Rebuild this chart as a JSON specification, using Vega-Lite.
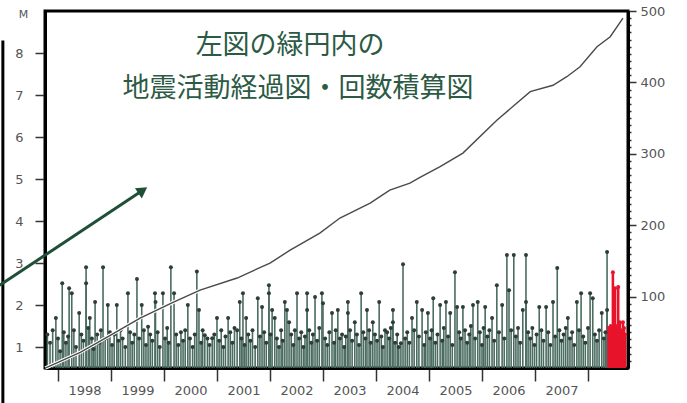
{
  "$schema": "https://vega.github.io/schema/vega-lite/v6.json",
  "width": 583,
  "height": 357,
  "autosize": {"type": "none"},
  "padding": {"left": 45, "top": 11, "right": 59, "bottom": 35},
  "background": "white",
  "config": {
    "view": {"stroke": "#000", "strokeWidth": 3},
    "axis": {"labelFont": "DejaVu Sans", "labelFontSize": 13, "labelColor": "#555", "domainColor": "#000", "domainWidth": 3, "tickColor": "#333", "tickWidth": 1.5, "grid": false}
  },
  "datasets": {
    "ev": [
      {"t": 1997.96, "m": 1.69, "g": "past"}, {"t": 1998.08, "m": 2.52, "g": "past"}, {"t": 1998.21, "m": 2.4, "g": "past"}, {"t": 1998.26, "m": 2.28, "g": "past"}, {"t": 1998.4, "m": 1.81, "g": "past"}, {"t": 1998.53, "m": 2.9, "g": "past"}, {"t": 1998.53, "m": 2.52, "g": "past"}, {"t": 1998.6, "m": 1.69, "g": "past"}, {"t": 1998.7, "m": 2.07, "g": "past"}, {"t": 1998.85, "m": 2.9, "g": "past"}, {"t": 1998.94, "m": 2.0, "g": "past"}, {"t": 1999.11, "m": 2.0, "g": "past"}, {"t": 1999.32, "m": 2.28, "g": "past"}, {"t": 1999.49, "m": 2.62, "g": "past"}, {"t": 1999.58, "m": 2.0, "g": "past"}, {"t": 1999.7, "m": 1.48, "g": "past"}, {"t": 1999.83, "m": 2.28, "g": "past"}, {"t": 1999.84, "m": 2.07, "g": "past"}, {"t": 1999.98, "m": 2.28, "g": "past"}, {"t": 2000.13, "m": 2.9, "g": "past"}, {"t": 2000.19, "m": 2.28, "g": "past"}, {"t": 2000.45, "m": 2.0, "g": "past"}, {"t": 2000.62, "m": 2.8, "g": "past"}, {"t": 2000.66, "m": 1.88, "g": "past"}, {"t": 2000.77, "m": 1.28, "g": "past"}, {"t": 2000.91, "m": 1.21, "g": "past"}, {"t": 2001.0, "m": 1.69, "g": "past"}, {"t": 2001.21, "m": 1.69, "g": "past"}, {"t": 2001.38, "m": 1.4, "g": "past"}, {"t": 2001.43, "m": 2.07, "g": "past"}, {"t": 2001.49, "m": 2.28, "g": "past"}, {"t": 2001.55, "m": 1.69, "g": "past"}, {"t": 2001.77, "m": 2.16, "g": "past"}, {"t": 2001.85, "m": 1.95, "g": "past"}, {"t": 2001.98, "m": 2.47, "g": "past"}, {"t": 2001.98, "m": 2.28, "g": "past"}, {"t": 2002.04, "m": 1.88, "g": "past"}, {"t": 2002.09, "m": 1.69, "g": "past"}, {"t": 2002.28, "m": 2.07, "g": "past"}, {"t": 2002.32, "m": 1.88, "g": "past"}, {"t": 2002.36, "m": 1.59, "g": "past"}, {"t": 2002.51, "m": 2.28, "g": "past"}, {"t": 2002.7, "m": 2.28, "g": "past"}, {"t": 2002.7, "m": 1.88, "g": "past"}, {"t": 2002.85, "m": 2.19, "g": "past"}, {"t": 2002.98, "m": 2.28, "g": "past"}, {"t": 2003.0, "m": 2.04, "g": "past"}, {"t": 2003.17, "m": 1.81, "g": "past"}, {"t": 2003.28, "m": 1.88, "g": "past"}, {"t": 2003.47, "m": 2.07, "g": "past"}, {"t": 2003.47, "m": 1.81, "g": "past"}, {"t": 2003.6, "m": 1.59, "g": "past"}, {"t": 2003.72, "m": 2.28, "g": "past"}, {"t": 2003.83, "m": 1.88, "g": "past"}, {"t": 2003.94, "m": 1.59, "g": "past"}, {"t": 2004.06, "m": 2.07, "g": "past"}, {"t": 2004.17, "m": 1.4, "g": "past"}, {"t": 2004.32, "m": 1.88, "g": "past"}, {"t": 2004.32, "m": 1.59, "g": "past"}, {"t": 2004.47, "m": 1.09, "g": "past"}, {"t": 2004.51, "m": 2.97, "g": "past"}, {"t": 2004.68, "m": 1.69, "g": "past"}, {"t": 2004.77, "m": 2.07, "g": "past"}, {"t": 2004.87, "m": 1.88, "g": "past"}, {"t": 2004.98, "m": 1.81, "g": "past"}, {"t": 2005.08, "m": 2.16, "g": "past"}, {"t": 2005.21, "m": 2.0, "g": "past"}, {"t": 2005.32, "m": 2.07, "g": "past"}, {"t": 2005.4, "m": 1.81, "g": "past"}, {"t": 2005.49, "m": 2.78, "g": "past"}, {"t": 2005.53, "m": 1.95, "g": "past"}, {"t": 2005.64, "m": 1.95, "g": "past"}, {"t": 2005.83, "m": 2.0, "g": "past"}, {"t": 2005.92, "m": 2.07, "g": "past"}, {"t": 2006.06, "m": 1.95, "g": "past"}, {"t": 2006.19, "m": 1.69, "g": "past"}, {"t": 2006.28, "m": 2.47, "g": "past"}, {"t": 2006.38, "m": 2.0, "g": "past"}, {"t": 2006.47, "m": 3.19, "g": "past"}, {"t": 2006.51, "m": 2.35, "g": "past"}, {"t": 2006.6, "m": 3.19, "g": "past"}, {"t": 2006.77, "m": 1.88, "g": "past"}, {"t": 2006.83, "m": 3.19, "g": "past"}, {"t": 2006.83, "m": 2.07, "g": "past"}, {"t": 2007.08, "m": 1.95, "g": "past"}, {"t": 2007.21, "m": 1.95, "g": "past"}, {"t": 2007.34, "m": 2.07, "g": "past"}, {"t": 2007.42, "m": 2.88, "g": "past"}, {"t": 2007.62, "m": 1.69, "g": "past"}, {"t": 2007.79, "m": 2.07, "g": "past"}, {"t": 2007.87, "m": 2.28, "g": "past"}, {"t": 2008.04, "m": 2.28, "g": "past"}, {"t": 2008.09, "m": 2.16, "g": "past"}, {"t": 2008.26, "m": 1.81, "g": "past"}, {"t": 2008.36, "m": 3.26, "g": "past"}, {"t": 2008.36, "m": 1.88, "g": "past"},
      {"t": 1997.8, "m": 1.3, "g": "past"}, {"t": 1997.85, "m": 1.1, "g": "past"}, {"t": 1997.9, "m": 1.4, "g": "past"}, {"t": 1998.0, "m": 1.2, "g": "past"}, {"t": 1998.04, "m": 0.9, "g": "past"}, {"t": 1998.11, "m": 1.35, "g": "past"}, {"t": 1998.15, "m": 1.1, "g": "past"}, {"t": 1998.19, "m": 1.25, "g": "past"}, {"t": 1998.3, "m": 1.4, "g": "past"}, {"t": 1998.34, "m": 1.0, "g": "past"}, {"t": 1998.44, "m": 1.3, "g": "past"}, {"t": 1998.48, "m": 1.15, "g": "past"}, {"t": 1998.57, "m": 1.45, "g": "past"}, {"t": 1998.64, "m": 1.2, "g": "past"}, {"t": 1998.67, "m": 0.95, "g": "past"}, {"t": 1998.74, "m": 1.3, "g": "past"}, {"t": 1998.78, "m": 1.1, "g": "past"}, {"t": 1998.81, "m": 1.4, "g": "past"}, {"t": 1998.89, "m": 1.2, "g": "past"}, {"t": 1998.98, "m": 1.35, "g": "past"}, {"t": 1999.02, "m": 1.05, "g": "past"}, {"t": 1999.06, "m": 1.3, "g": "past"}, {"t": 1999.14, "m": 1.15, "g": "past"}, {"t": 1999.18, "m": 1.4, "g": "past"}, {"t": 1999.22, "m": 1.2, "g": "past"}, {"t": 1999.27, "m": 1.0, "g": "past"}, {"t": 1999.36, "m": 1.35, "g": "past"}, {"t": 1999.4, "m": 1.1, "g": "past"}, {"t": 1999.44, "m": 1.3, "g": "past"}, {"t": 1999.53, "m": 1.2, "g": "past"}, {"t": 1999.62, "m": 1.4, "g": "past"}, {"t": 1999.66, "m": 1.05, "g": "past"}, {"t": 1999.74, "m": 1.3, "g": "past"}, {"t": 1999.78, "m": 1.15, "g": "past"}, {"t": 1999.88, "m": 1.35, "g": "past"}, {"t": 1999.92, "m": 1.0, "g": "past"}, {"t": 2000.02, "m": 1.2, "g": "past"}, {"t": 2000.06, "m": 1.45, "g": "past"}, {"t": 2000.09, "m": 1.1, "g": "past"}, {"t": 2000.23, "m": 1.3, "g": "past"}, {"t": 2000.27, "m": 1.05, "g": "past"}, {"t": 2000.32, "m": 1.35, "g": "past"}, {"t": 2000.36, "m": 1.15, "g": "past"}, {"t": 2000.4, "m": 1.4, "g": "past"}, {"t": 2000.49, "m": 1.2, "g": "past"}, {"t": 2000.54, "m": 1.0, "g": "past"}, {"t": 2000.58, "m": 1.3, "g": "past"}, {"t": 2000.7, "m": 1.1, "g": "past"}, {"t": 2000.73, "m": 1.4, "g": "past"}, {"t": 2000.82, "m": 1.2, "g": "past"}, {"t": 2000.86, "m": 1.05, "g": "past"}, {"t": 2000.95, "m": 1.3, "g": "past"}, {"t": 2001.04, "m": 1.15, "g": "past"}, {"t": 2001.08, "m": 1.4, "g": "past"}, {"t": 2001.12, "m": 1.0, "g": "past"}, {"t": 2001.16, "m": 1.25, "g": "past"}, {"t": 2001.25, "m": 1.35, "g": "past"}, {"t": 2001.29, "m": 1.1, "g": "past"}, {"t": 2001.33, "m": 1.45, "g": "past"}, {"t": 2001.46, "m": 1.2, "g": "past"}, {"t": 2001.52, "m": 1.05, "g": "past"}, {"t": 2001.59, "m": 1.3, "g": "past"}, {"t": 2001.63, "m": 1.15, "g": "past"}, {"t": 2001.67, "m": 1.4, "g": "past"}, {"t": 2001.72, "m": 1.0, "g": "past"}, {"t": 2001.81, "m": 1.25, "g": "past"}, {"t": 2001.89, "m": 1.35, "g": "past"}, {"t": 2001.93, "m": 1.1, "g": "past"}, {"t": 2002.01, "m": 1.3, "g": "past"}, {"t": 2002.13, "m": 1.2, "g": "past"}, {"t": 2002.17, "m": 1.0, "g": "past"}, {"t": 2002.21, "m": 1.4, "g": "past"}, {"t": 2002.24, "m": 1.15, "g": "past"}, {"t": 2002.4, "m": 1.3, "g": "past"}, {"t": 2002.44, "m": 1.05, "g": "past"}, {"t": 2002.47, "m": 1.4, "g": "past"}, {"t": 2002.55, "m": 1.2, "g": "past"}, {"t": 2002.59, "m": 1.35, "g": "past"}, {"t": 2002.63, "m": 1.0, "g": "past"}, {"t": 2002.66, "m": 1.25, "g": "past"}, {"t": 2002.74, "m": 1.4, "g": "past"}, {"t": 2002.78, "m": 1.1, "g": "past"}, {"t": 2002.81, "m": 1.3, "g": "past"}, {"t": 2002.89, "m": 1.15, "g": "past"}, {"t": 2002.93, "m": 1.45, "g": "past"}, {"t": 2003.04, "m": 1.2, "g": "past"}, {"t": 2003.08, "m": 1.05, "g": "past"}, {"t": 2003.12, "m": 1.35, "g": "past"}, {"t": 2003.21, "m": 1.1, "g": "past"}, {"t": 2003.24, "m": 1.4, "g": "past"}, {"t": 2003.32, "m": 1.2, "g": "past"}, {"t": 2003.36, "m": 1.3, "g": "past"}, {"t": 2003.4, "m": 1.0, "g": "past"}, {"t": 2003.43, "m": 1.25, "g": "past"}, {"t": 2003.51, "m": 1.4, "g": "past"}, {"t": 2003.55, "m": 1.15, "g": "past"}, {"t": 2003.64, "m": 1.3, "g": "past"}, {"t": 2003.68, "m": 1.05, "g": "past"}, {"t": 2003.76, "m": 1.35, "g": "past"}, {"t": 2003.8, "m": 1.2, "g": "past"}, {"t": 2003.87, "m": 1.4, "g": "past"}, {"t": 2003.9, "m": 1.1, "g": "past"}, {"t": 2003.98, "m": 1.3, "g": "past"}, {"t": 2004.02, "m": 1.15, "g": "past"}, {"t": 2004.1, "m": 1.25, "g": "past"}, {"t": 2004.13, "m": 1.0, "g": "past"}, {"t": 2004.21, "m": 1.35, "g": "past"}, {"t": 2004.25, "m": 1.2, "g": "past"}, {"t": 2004.28, "m": 1.45, "g": "past"}, {"t": 2004.36, "m": 1.1, "g": "past"}, {"t": 2004.4, "m": 1.3, "g": "past"}, {"t": 2004.43, "m": 1.0, "g": "past"}, {"t": 2004.55, "m": 1.2, "g": "past"}, {"t": 2004.59, "m": 1.35, "g": "past"}, {"t": 2004.63, "m": 1.1, "g": "past"}, {"t": 2004.72, "m": 1.4, "g": "past"}, {"t": 2004.81, "m": 1.25, "g": "past"}, {"t": 2004.91, "m": 1.05, "g": "past"}, {"t": 2004.94, "m": 1.35, "g": "past"}, {"t": 2005.02, "m": 1.2, "g": "past"}, {"t": 2005.05, "m": 1.4, "g": "past"}, {"t": 2005.12, "m": 1.1, "g": "past"}, {"t": 2005.16, "m": 1.3, "g": "past"}, {"t": 2005.25, "m": 1.15, "g": "past"}, {"t": 2005.28, "m": 1.45, "g": "past"}, {"t": 2005.36, "m": 1.25, "g": "past"}, {"t": 2005.44, "m": 1.05, "g": "past"}, {"t": 2005.57, "m": 1.35, "g": "past"}, {"t": 2005.6, "m": 1.2, "g": "past"}, {"t": 2005.68, "m": 1.4, "g": "past"}, {"t": 2005.72, "m": 1.1, "g": "past"}, {"t": 2005.76, "m": 1.3, "g": "past"}, {"t": 2005.79, "m": 1.5, "g": "past"}, {"t": 2005.87, "m": 1.2, "g": "past"}, {"t": 2005.96, "m": 1.35, "g": "past"}, {"t": 2006.0, "m": 1.05, "g": "past"}, {"t": 2006.03, "m": 1.45, "g": "past"}, {"t": 2006.1, "m": 1.25, "g": "past"}, {"t": 2006.14, "m": 1.4, "g": "past"}, {"t": 2006.23, "m": 1.15, "g": "past"}, {"t": 2006.32, "m": 1.35, "g": "past"}, {"t": 2006.42, "m": 1.2, "g": "past"}, {"t": 2006.55, "m": 1.4, "g": "past"}, {"t": 2006.64, "m": 1.25, "g": "past"}, {"t": 2006.68, "m": 1.45, "g": "past"}, {"t": 2006.72, "m": 1.1, "g": "past"}, {"t": 2006.87, "m": 1.35, "g": "past"}, {"t": 2006.91, "m": 1.2, "g": "past"}, {"t": 2006.95, "m": 1.45, "g": "past"}, {"t": 2006.99, "m": 1.05, "g": "past"}, {"t": 2007.03, "m": 1.3, "g": "past"}, {"t": 2007.12, "m": 1.4, "g": "past"}, {"t": 2007.16, "m": 1.15, "g": "past"}, {"t": 2007.25, "m": 1.35, "g": "past"}, {"t": 2007.29, "m": 1.05, "g": "past"}, {"t": 2007.38, "m": 1.25, "g": "past"}, {"t": 2007.46, "m": 1.4, "g": "past"}, {"t": 2007.5, "m": 1.15, "g": "past"}, {"t": 2007.54, "m": 1.3, "g": "past"}, {"t": 2007.58, "m": 1.45, "g": "past"}, {"t": 2007.66, "m": 1.2, "g": "past"}, {"t": 2007.7, "m": 1.35, "g": "past"}, {"t": 2007.74, "m": 1.05, "g": "past"}, {"t": 2007.83, "m": 1.4, "g": "past"}, {"t": 2007.91, "m": 1.25, "g": "past"}, {"t": 2007.95, "m": 1.1, "g": "past"}, {"t": 2008.0, "m": 1.45, "g": "past"}, {"t": 2008.13, "m": 1.3, "g": "past"}, {"t": 2008.17, "m": 1.15, "g": "past"}, {"t": 2008.21, "m": 1.4, "g": "past"}, {"t": 2008.3, "m": 1.2, "g": "past"}, {"t": 2008.33, "m": 1.35, "g": "past"},
      {"t": 2008.39, "m": 1.45, "g": "recent"}, {"t": 2008.41, "m": 1.3, "g": "recent"}, {"t": 2008.43, "m": 1.5, "g": "recent"}, {"t": 2008.45, "m": 1.2, "g": "recent"}, {"t": 2008.47, "m": 2.78, "g": "recent"}, {"t": 2008.49, "m": 1.4, "g": "recent"}, {"t": 2008.51, "m": 2.4, "g": "recent"}, {"t": 2008.53, "m": 1.35, "g": "recent"}, {"t": 2008.55, "m": 1.5, "g": "recent"}, {"t": 2008.57, "m": 2.43, "g": "recent"}, {"t": 2008.59, "m": 1.3, "g": "recent"}, {"t": 2008.6, "m": 1.59, "g": "recent"}, {"t": 2008.62, "m": 1.4, "g": "recent"}, {"t": 2008.64, "m": 1.25, "g": "recent"}, {"t": 2008.66, "m": 1.59, "g": "recent"}, {"t": 2008.68, "m": 1.45, "g": "recent"}, {"t": 2008.7, "m": 1.3, "g": "recent"}
    ],
    "cum": [
      {"t": 1997.76, "n": 0}, {"t": 1997.79, "n": 1}, {"t": 1998.42, "n": 22}, {"t": 1998.92, "n": 43}, {"t": 1999.55, "n": 70}, {"t": 2000.17, "n": 92}, {"t": 2000.68, "n": 109}, {"t": 2001.38, "n": 126}, {"t": 2002.0, "n": 147}, {"t": 2002.38, "n": 165}, {"t": 2002.94, "n": 189}, {"t": 2003.32, "n": 210}, {"t": 2003.89, "n": 231}, {"t": 2004.26, "n": 249}, {"t": 2004.64, "n": 259}, {"t": 2004.83, "n": 267}, {"t": 2005.21, "n": 282}, {"t": 2005.64, "n": 301}, {"t": 2006.28, "n": 347}, {"t": 2006.91, "n": 387}, {"t": 2007.34, "n": 396}, {"t": 2007.6, "n": 408}, {"t": 2007.85, "n": 422}, {"t": 2008.17, "n": 450}, {"t": 2008.42, "n": 464}, {"t": 2008.66, "n": 490}
    ],
    "txt": [
      {"t": 2002.38, "m": 8.17, "label": "左図の緑円内の"},
      {"t": 2002.53, "m": 7.15, "label": "地震活動経過図・回数積算図"}
    ],
    "arrow": [{"t": 1996.9, "m": 2.47, "t2": 1999.6, "m2": 4.73}],
    "head": [{"t": 1999.6, "m": 4.73}],
    "edge": [{"t": 1996.96, "m": 8.3, "m2": -0.4}]
  },
  "encoding": {
    "x": {"field": "t", "type": "quantitative", "scale": {"domain": [1997.755, 2008.755], "nice": false, "zero": false},
      "axis": {"values": [1998, 1999, 2000, 2001, 2002, 2003, 2004, 2005, 2006, 2007, 2008], "format": "d", "labelExpr": "datum.value < 2008 ? datum.label : ''", "labelOffset": 26.5, "tickSize": 13, "labelPadding": 3, "labelOverlap": false, "labelFlush": false, "title": null}}
  },
  "layer": [
    {
      "encoding": {
        "y": {"field": "m", "type": "quantitative", "scale": {"domain": [0.5, 9], "nice": false, "zero": false},
          "axis": {"values": [1, 2, 3, 4, 5, 6, 7, 8], "tickSize": 10, "labelPadding": 12, "title": "M", "titleAngle": 0, "titleX": -22, "titleY": 8, "titleAlign": "center", "titleBaseline": "bottom", "titleFont": "DejaVu Sans", "titleFontSize": 11, "titleFontWeight": "normal", "titleColor": "#555"}}
      },
      "layer": [
        {
          "data": {"name": "edge"},
          "mark": {"type": "rule", "color": "#000", "strokeWidth": 3},
          "encoding": {"y2": {"field": "m2"}}
        },
        {
          "data": {"name": "ev"},
          "mark": {"type": "rule"},
          "encoding": {
            "y2": {"datum": 0.5},
            "color": {"condition": {"test": "datum.g === 'recent'", "value": "#e8142c"}, "value": "#4b6c60"},
            "strokeWidth": {"condition": {"test": "datum.g === 'recent'", "value": 2.6}, "value": 1.6}
          }
        },
        {
          "data": {"name": "ev"},
          "mark": {"type": "circle", "size": 16, "opacity": 1},
          "encoding": {
            "color": {"condition": {"test": "datum.g === 'recent'", "value": "#e8142c"}, "value": "#2f3d38"}
          }
        },
        {
          "data": {"name": "txt"},
          "mark": {"type": "text", "font": "Noto Sans CJK JP", "fontSize": 27, "color": "#2c5a44", "align": "center", "baseline": "middle"},
          "encoding": {"text": {"field": "label"}}
        },
        {
          "data": {"name": "arrow"},
          "mark": {"type": "rule", "color": "#1f4f37", "strokeWidth": 3},
          "encoding": {"x2": {"field": "t2"}, "y2": {"field": "m2"}}
        },
        {
          "data": {"name": "head"},
          "mark": {"type": "point", "shape": "triangle-right", "filled": true, "color": "#1f4f37", "size": 150, "angle": 326, "opacity": 1},
          "encoding": {}
        }
      ]
    },
    {
      "data": {"name": "cum"},
      "encoding": {
        "y": {"field": "n", "type": "quantitative", "scale": {"domain": [0, 500], "nice": false},
          "axis": {"orient": "right", "values": [10, 20, 30, 40, 50, 60, 70, 80, 90, 100, 110, 120, 130, 140, 150, 160, 170, 180, 190, 200, 210, 220, 230, 240, 250, 260, 270, 280, 290, 300, 310, 320, 330, 340, 350, 360, 370, 380, 390, 400, 410, 420, 430, 440, 450, 460, 470, 480, 490, 500],
            "labelExpr": "datum.value % 100 === 0 ? datum.label : ''", "labelOverlap": false, "labelFlush": false,
            "tickSize": {"condition": {"test": "datum.value % 100 === 0", "value": 8}, "value": 3},
            "labelPadding": 4, "title": null}}
      },
      "layer": [
        {"mark": {"type": "line", "color": "#ffffff", "strokeWidth": 3.5}, "encoding": {}},
        {"mark": {"type": "line", "color": "#4a4a4a", "strokeWidth": 1.4}, "encoding": {}}
      ]
    }
  ],
  "resolve": {"scale": {"y": "independent"}}
}
